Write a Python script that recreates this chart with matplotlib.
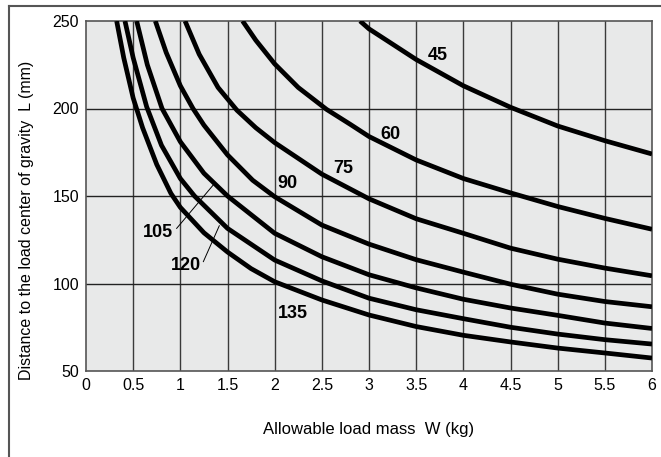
import matplotlib
matplotlib.use('Agg')
import matplotlib.pyplot as plt
from matplotlib.lines import Line2D

plt.rcParams['font.family'] = ['Liberation Sans', 'DejaVu Sans']

# Allowable load mass W (kg) vs distance L (mm), one curve per label
W_45  = [2.905, 3.0, 3.5, 4.0, 4.5, 5.0, 5.5, 6.0]
L_45  = [250, 245.5, 228, 213, 200.7, 190, 181.6, 174]

W_60  = [1.66, 1.8, 2.0, 2.25, 2.55, 2.8, 3.0, 3.5, 4.0, 4.5, 5.0, 5.5, 6.0]
L_60  = [250, 239, 225.5, 212, 199.5, 191, 184, 170.6, 160, 151.8, 144, 137.2, 131]

W_75  = [1.05, 1.2, 1.4, 1.6, 1.8, 2.0, 2.5, 3.0, 3.5, 4.0, 4.5, 5.0, 5.5, 6.0]
L_75  = [250, 231, 212, 199, 189, 180.5, 162.5, 148.4, 137, 128.7, 120.2, 113.9, 108.8, 104.4]

W_90  = [0.735, 0.85, 1.0, 1.134, 1.25, 1.5, 1.767, 2.0, 2.5, 3.0, 3.5, 4.0, 4.5, 5.0, 5.5, 6.0]
L_90  = [250, 232, 213, 200, 190.5, 173.5, 159, 149.6, 133.4, 122.5, 113.6, 106.5, 99.6, 93.9, 89.7, 86.7]

W_105 = [0.537, 0.65, 0.806, 1.0, 1.25, 1.5, 2.0, 2.5, 3.0, 3.5, 4.0, 4.5, 5.0, 5.5, 6.0]
L_105 = [250, 225, 200, 181, 163, 150, 128.7, 115.3, 105, 97.5, 91, 86, 81.8, 77.4, 74.3]

W_120 = [0.413, 0.5, 0.643, 0.8, 1.0, 1.15, 1.5, 2.0, 2.5, 3.0, 3.5, 4.0, 4.5, 5.0, 5.5, 6.0]
L_120 = [250, 229, 201, 179, 160, 150, 131.5, 113.4, 101.5, 91.6, 85, 79.9, 75, 71.1, 67.9, 65.4]

W_135 = [0.325, 0.4, 0.5, 0.6, 0.75, 0.9, 1.0, 1.25, 1.5, 1.75, 2.0, 2.5, 3.0, 3.5, 4.0, 4.5, 5.0, 5.5, 6.0]
L_135 = [250, 229, 206, 189, 168, 151.5, 143.5, 129, 118, 108.5, 101, 90.6, 82, 75.4, 70.4, 66.6, 63.1, 60.3, 57.4]

CURVES = [
    ('45',  W_45,  L_45,  (3.725, 230.3)),
    ('60',  W_60,  L_60,  (3.23, 185.3)),
    ('75',  W_75,  L_75,  (2.722, 165.5)),
    ('90',  W_90,  L_90,  (2.135, 157.2)),
    ('105', W_105, L_105, (0.767, 129.2)),
    ('120', W_120, L_120, (1.055, 110.0)),
    ('135', W_135, L_135, (2.19, 83.0)),
]

# leader lines from labels to their curves
LEADER_105 = ([0.961, 1.36], [131.5, 157.0])
LEADER_120 = ([1.244, 1.413], [112.5, 133.0])

X_TICKS = [0, 0.5, 1, 1.5, 2, 2.5, 3, 3.5, 4, 4.5, 5, 5.5, 6]
X_LABELS = ['0', '0.5', '1', '1.5', '2', '2.5', '3', '3.5', '4', '4.5', '5', '5.5', '6']
Y_TICKS = [50, 100, 150, 200, 250]

fig = plt.figure(figsize=(6.61, 4.57), dpi=100)

# outer frame (only top and left visible)
fig.add_artist(Line2D([9 / 661, 1.0], [1 - 5.5 / 457, 1 - 5.5 / 457], color='#555555', lw=1.5))
fig.add_artist(Line2D([9 / 661, 9 / 661], [0.0, 1 - 5.5 / 457], color='#555555', lw=1.5))

ax = fig.add_axes([86 / 661, 86 / 457, 566 / 661, 350 / 457])
ax.set_facecolor('#e8e9e9')

for x in X_TICKS[1:-1]:
    ax.axvline(x, color='#3a3a3a', lw=1.0, zorder=1)
for y in Y_TICKS[1:-1]:
    ax.axhline(y, color='#222222', lw=1.0, zorder=1)

for name, ws, ls, pos in CURVES:
    ax.plot(ws, ls, color='black', lw=3.4, solid_capstyle='butt', solid_joinstyle='round', zorder=3)
    ax.text(pos[0], pos[1], name, fontsize=13, fontweight='bold', ha='center', va='center', zorder=4)

ax.plot(*LEADER_105, color='black', lw=0.7, zorder=4)
ax.plot(*LEADER_120, color='black', lw=0.7, zorder=4)

ax.set_xlim(0, 6)
ax.set_ylim(50, 250)
ax.set_xticks(X_TICKS)
ax.set_xticklabels(X_LABELS)
ax.set_yticks(Y_TICKS)
ax.tick_params(length=0, labelsize=11.5, pad=5)

for spine in ax.spines.values():
    spine.set_color('#555555')
    spine.set_linewidth(1.2)

ax.set_xlabel('Allowable load mass  W (kg)', fontsize=12, labelpad=21)
fig.text(27 / 661, 1 - 220 / 457, 'Distance to the load center of gravity  L (mm)',
         rotation=90, fontsize=11.5, ha='center', va='center')

fig.savefig('out.png', dpi=100)
